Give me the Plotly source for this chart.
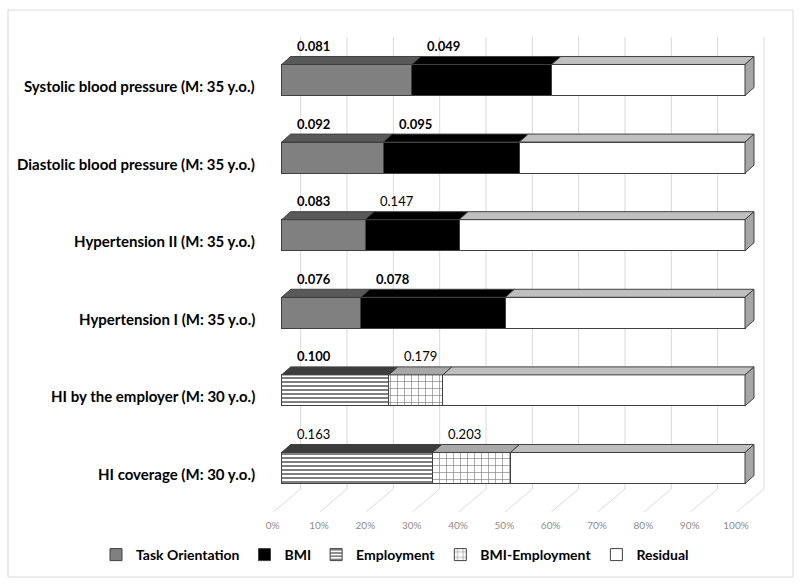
import plotly.graph_objects as go

# ---------------- data ----------------
categories = [
    "HI coverage (M: 30 y.o.)",
    "HI by the employer (M: 30 y.o.)",
    "Hypertension I (M: 35 y.o.)",
    "Hypertension II (M: 35 y.o.)",
    "Diastolic blood pressure (M: 35 y.o.)",
    "Systolic blood pressure (M: 35 y.o.)",
]
series_names = ["Task Orientation", "BMI", "Employment", "BMI-Employment", "Residual"]

task_orientation = [None, None, 17.1, 18.0, 21.9, 28.1]
bmi = [None, None, 31.2, 20.3, 29.4, 30.2]
employment = [32.6, 23.1, None, None, None, None]
bmi_employment = [16.8, 11.7, None, None, None, None]
residual = [50.6, 65.2, 51.7, 61.7, 48.7, 41.7]

# value labels printed above the first two segments of each bar
label_first = ["0.163", "0.100", "0.076", "0.083", "0.092", "0.081"]
label_first_bold = [False, True, True, True, True, True]
label_second = ["0.203", "0.179", "0.078", "0.147", "0.095", "0.049"]
label_second_bold = [False, False, True, False, True, True]

tick_values = [0, 10, 20, 30, 40, 50, 60, 70, 80, 90, 100]
tick_labels = ["0%", "10%", "20%", "30%", "40%", "50%", "60%", "70%", "80%", "90%", "100%"]

# ---------------- geometry (pixel layout) ----------------
W, H = 800, 585
X0PX, X100PX = 281.7, 745.0
SX = (X100PX - X0PX) / 100.0           # px per x unit
L_PX, R_PX = 268.0, 771.0
Y0PX, STEP = 468.0, 77.6               # centre of bottom bar, px per category
T_PX, B_PX = 28.0, 516.0
xmin = (L_PX - X0PX) / SX
xmax = 100 + (R_PX - X100PX) / SX
ymax = (Y0PX - T_PX) / STEP
ymin = (Y0PX - B_PX) / STEP

def px_to_y(py):
    return (Y0PX - py) / STEP

def px_to_paper_x(px):
    return px / W

def px_to_paper_y(py):
    return 1 - py / H

BAR_W = 0.40
DX = 9.0 / SX
DY = 8.0 / STEP
EDGE = "#404040"
FONT = "Lato, 'Open Sans', sans-serif"

series_vals = [task_orientation, bmi, employment, bmi_employment, residual]
front_colors = ["#808080", "#000000", "#ffffff", "#ffffff", "#ffffff"]
top_colors = ["#595959", "#000000", "#3c3c3c", "#a8a8a8", "#bfbfbf"]
patterns = [
    dict(shape=""),
    dict(shape=""),
    dict(shape="-", fgcolor="#000000", bgcolor="#ffffff", size=4, solidity=0.5, fillmode="overlay"),
    dict(shape="+", fgcolor="#000000", bgcolor="#ffffff", size=7, solidity=0.18, fillmode="overlay"),
    dict(shape=""),
]

fig = go.Figure()
ys = list(range(len(categories)))

# front faces
for name, vals, col, pat in zip(series_names, series_vals, front_colors, patterns):
    fig.add_trace(go.Bar(
        y=ys, x=vals, name="<b>%s</b>" % name, orientation="h", width=BAR_W,
        marker=dict(color=col, line=dict(color=EDGE, width=1), pattern=pat),
        hoverinfo="skip",
    ))

# top faces (computed from the stacked values)
starts = [0.0] * len(categories)
seg_starts = []
for vals, tcol in zip(series_vals, top_colors):
    xs, yy = [], []
    st = []
    for i, v in enumerate(vals):
        st.append(starts[i])
        if v is None:
            continue
        x0, x1 = starts[i], starts[i] + v
        yt = i + BAR_W / 2
        xs += [x0, x1, x1 + DX, x0 + DX, x0, None]
        yy += [yt, yt, yt + DY, yt + DY, yt, None]
        starts[i] = x1
    seg_starts.append(st)
    fig.add_trace(go.Scatter(
        x=xs, y=yy, mode="lines", fill="toself", fillcolor=tcol,
        line=dict(color=EDGE, width=1), showlegend=False, hoverinfo="skip",
    ))

# right side faces
xs, yy = [], []
for i in ys:
    xe = starts[i]
    yb, yt = i - BAR_W / 2, i + BAR_W / 2
    xs += [xe, xe, xe + DX, xe + DX, xe, None]
    yy += [yb, yt, yt + DY, yb + DY, yb, None]
fig.add_trace(go.Scatter(
    x=xs, y=yy, mode="lines", fill="toself", fillcolor="#a6a6a6",
    line=dict(color=EDGE, width=1), showlegend=False, hoverinfo="skip",
))

# gridlines on back wall + floor
shapes = []
back_off = 19.0 / SX
front_off = -8.4 / SX
y_top = px_to_y(37)
y_fb = px_to_y(489)
y_ff = px_to_y(512)
for v in tick_values:
    shapes.append(dict(type="line", xref="x", yref="y", x0=v + back_off, x1=v + back_off,
                       y0=y_fb, y1=y_top, line=dict(color="#d9d9d9", width=1), layer="below"))
    shapes.append(dict(type="line", xref="x", yref="y", x0=v + back_off, x1=v + front_off,
                       y0=y_fb, y1=y_ff, line=dict(color="#d9d9d9", width=1), layer="below"))
# outer chart border
shapes.append(dict(type="rect", xref="paper", yref="paper",
                   x0=px_to_paper_x(8), x1=px_to_paper_x(793),
                   y0=px_to_paper_y(577), y1=px_to_paper_y(10),
                   line=dict(color="#d9d9d9", width=1), fillcolor="rgba(0,0,0,0)"))

annotations = []
# category labels
for i, c in enumerate(categories):
    annotations.append(dict(xref="paper", yref="y", x=px_to_paper_x(257), y=i, yshift=-6,
                            text="<b>%s</b>" % c, showarrow=False, xanchor="right",
                            font=dict(family=FONT, size=15, color="#000000")))
# value labels
first_idx = [0 if task_orientation[i] is not None else 2 for i in ys]
LBL_OFF = 32.0 / SX
for i in ys:
    s1 = seg_starts[first_idx[i]][i]
    s2 = seg_starts[first_idx[i] + 1][i]
    for txt, bold, sx in ((label_first[i], label_first_bold[i], s1),
                          (label_second[i], label_second_bold[i], s2)):
        annotations.append(dict(xref="x", yref="y", x=sx + LBL_OFF, y=i, yshift=34,
                                text=("<b>%s</b>" % txt) if bold else txt, showarrow=False,
                                font=dict(family=FONT, size=13, color="#000000")))

fig.update_layout(
    width=W, height=H,
    margin=dict(l=0, r=0, t=0, b=0, pad=0, autoexpand=False),
    barmode="stack",
    plot_bgcolor="white", paper_bgcolor="white",
    showlegend=True,
    legend=dict(orientation="h", x=px_to_paper_x(395), xanchor="center",
                y=px_to_paper_y(555), yanchor="middle",
                font=dict(family=FONT, size=14, color="#000000"),
                traceorder="normal", itemwidth=30, bgcolor="rgba(0,0,0,0)"),
    shapes=shapes,
    annotations=annotations,
    font=dict(family=FONT),
)
fig.update_xaxes(domain=[L_PX / W, R_PX / W], range=[xmin, xmax],
                 tickvals=tick_values, ticktext=tick_labels,
                 showgrid=False, zeroline=False, showline=False, ticks="",
                 tickfont=dict(family=FONT, size=10, color="#8c8c8c"),
                 ticklabelshift=-9, ticklabelstandoff=2, fixedrange=True)
fig.update_yaxes(domain=[1 - B_PX / H, 1 - T_PX / H], range=[ymin, ymax],
                 showticklabels=False, showgrid=False,
                 zeroline=False, showline=False, ticks="", fixedrange=True)

fig.write_html("out.html", config={"displayModeBar": False},
               post_script="document.body.style.margin='0px';")
